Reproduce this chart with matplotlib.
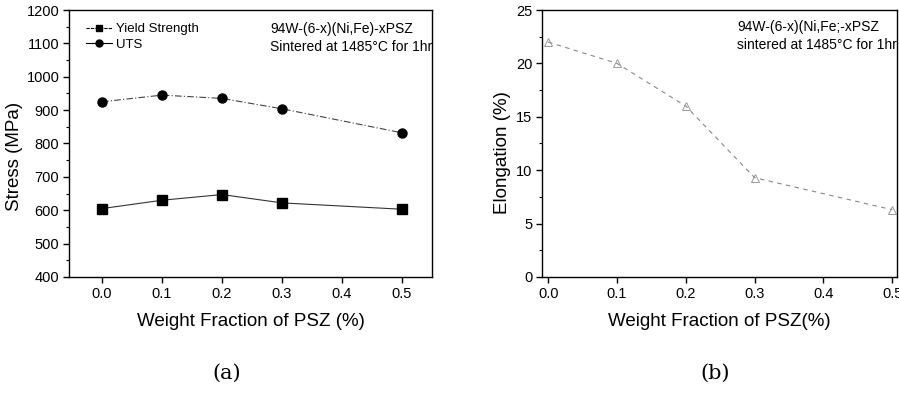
import matplotlib
matplotlib.use("Agg")
import matplotlib.pyplot as plt
from matplotlib.ticker import AutoMinorLocator
from matplotlib.lines import Line2D

plt.rcParams['font.family'] = ['Liberation Sans', 'DejaVu Sans']

psz = [0.0, 0.1, 0.2, 0.3, 0.5]
yield_strength = [605, 630, 647, 622, 603]
uts = [925, 945, 935, 904, 832]
elongation = [22.0, 20.0, 16.0, 9.3, 6.3]

xticks = [0.0, 0.1, 0.2, 0.3, 0.4, 0.5]
stress_ticks = [400, 500, 600, 700, 800, 900, 1000, 1100, 1200]
elong_ticks = [0, 5, 10, 15, 20, 25]

fig = plt.figure(figsize=(8.99, 3.97), dpi=100)
ax1 = fig.add_axes([0.0768, 0.3023, 0.4037, 0.6725])
ax2 = fig.add_axes([0.6029, 0.3023, 0.3949, 0.6725])

for ax in (ax1, ax2):
    ax.tick_params(direction='out', length=4, width=1, labelsize=10.5, pad=3)
    ax.tick_params(which='minor', direction='out', length=2, width=0.8)
    ax.tick_params(top=False, right=False)
    for s in ax.spines.values():
        s.set_linewidth(1.0)
    ax.set_xticks(xticks)
    ax.set_xticklabels([f"{v:.1f}" for v in xticks])

# (a)
ax1.plot(psz, yield_strength, color='#333333', lw=0.8, ls='-', marker='s', ms=6.5,
         mfc='black', mec='black')
ax1.plot(psz, uts, color='#444444', lw=0.8, ls=(0, (6, 2, 1, 2)), marker='o', ms=6.5,
         mfc='black', mec='black')
ax1.set_xlim(-0.055, 0.55)
ax1.set_ylim(400, 1200)
ax1.set_yticks(stress_ticks)
ax1.yaxis.set_minor_locator(AutoMinorLocator(2))
ax1.set_ylabel('Stress (MPa)', fontsize=13.5)
ax1.yaxis.set_label_coords(-0.128, 0.45)
ax1.set_xlabel('Weight Fraction of PSZ (%)', fontsize=13.5, labelpad=9)
handles = [Line2D([], [], color='black', lw=0.8, ls=(0, (3, 1)), marker='s', ms=5),
           Line2D([], [], color='black', lw=0.8, ls='-', marker='o', ms=5)]
ax1.legend(handles, ['Yield Strength', 'UTS'], loc='upper left', frameon=False,
           fontsize=9.5, handlelength=2.0, handletextpad=0.3, labelspacing=0.25,
           borderaxespad=0.3, bbox_to_anchor=(0.02, 0.985))
ax1.text(0.555, 0.93, '94W-(6-x)(Ni,Fe)-xPSZ', transform=ax1.transAxes,
         fontsize=10, va='center', ha='left')
ax1.text(0.555, 0.86, 'Sintered at 1485°C for 1hr', transform=ax1.transAxes,
         fontsize=10, va='center', ha='left')

# (b)
ax2.plot(psz, elongation, color='#888888', lw=0.8, ls=(0, (4, 4)), marker='^', ms=6,
         mfc='none', mec='#999999', mew=0.7)
ax2.set_xlim(-0.009, 0.507)
ax2.set_ylim(0, 25)
ax2.set_yticks(elong_ticks)
ax2.yaxis.set_minor_locator(AutoMinorLocator(2))
ax2.set_ylabel('Elongation (%)', fontsize=13.5)
ax2.yaxis.set_label_coords(-0.088, 0.465)
ax2.set_xlabel('Weight Fraction of PSZ(%)', fontsize=13.5, labelpad=9)
ax2.text(0.55, 0.935, '94W-(6-x)(Ni,Fe;-xPSZ', transform=ax2.transAxes,
         fontsize=10, va='center', ha='left')
ax2.text(0.55, 0.868, 'sintered at 1485°C for 1hr', transform=ax2.transAxes,
         fontsize=10, va='center', ha='left')

fig.text(227/899, 1 - 373/397, '(a)', fontsize=15, ha='center', va='center',
         family='DejaVu Serif')
fig.text(715/899, 1 - 373/397, '(b)', fontsize=15, ha='center', va='center',
         family='DejaVu Serif')

fig.savefig('out.png', dpi=100)
